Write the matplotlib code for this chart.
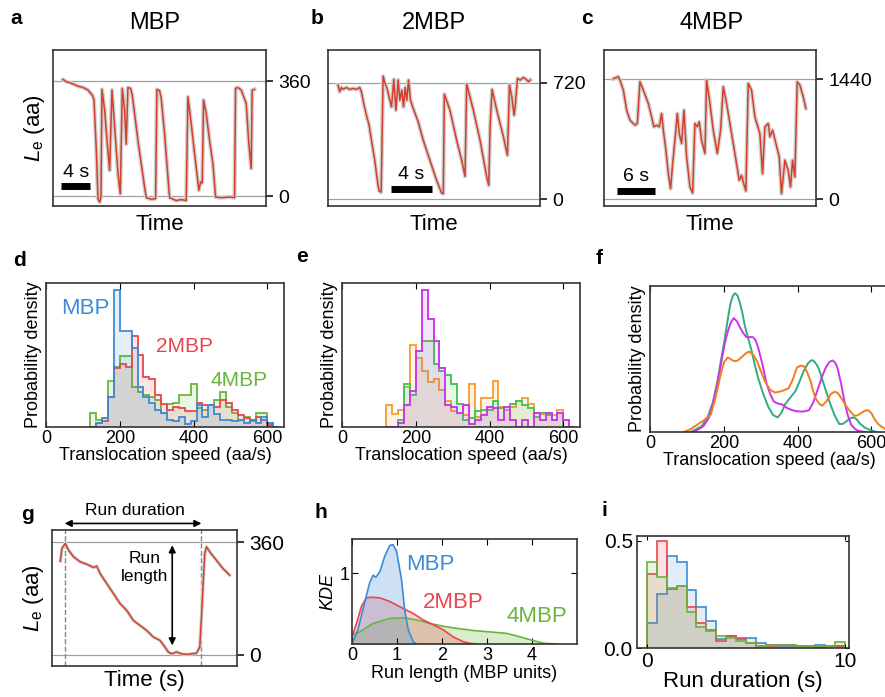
import numpy as np
import matplotlib
matplotlib.use('Agg')
import matplotlib.pyplot as plt

plt.rcParams['font.family'] = ['Liberation Sans', 'DejaVu Sans']
plt.rcParams['mathtext.fontset'] = 'custom'
plt.rcParams['mathtext.rm'] = 'Liberation Sans'
plt.rcParams['mathtext.it'] = 'Liberation Sans:italic'
plt.rcParams['axes.linewidth'] = 1.2
plt.rcParams['axes.edgecolor'] = '#333333'

# ---------------- data ----------------
# panel a (MBP trace): time (s), extruded length (aa)
ta = [1.38, 1.84, 2.30, 2.76, 3.45, 4.14, 4.83, 5.43, 5.66, 5.98, 6.21, 6.44, 6.62, 6.76, 7.13, 7.45, 7.82,
      8.14, 8.51, 8.97, 9.29, 9.56, 9.89, 10.11, 10.34, 10.71, 10.94, 11.26, 11.72, 12.18, 12.64, 12.87,
      13.56, 14.16, 14.34, 14.71, 14.94, 15.40, 15.86, 16.09, 17.01, 17.70, 18.39, 18.62, 19.08, 19.54,
      20.14, 20.37, 20.60, 20.78, 21.15, 21.61, 22.07, 22.44, 23.22, 24.37, 25.06, 25.20, 25.52, 25.98,
      26.67, 27.03, 27.36, 27.49, 27.82]
la = [365, 358, 355, 351, 344, 340, 332, 316, 301, 144, -7, -18, -2, 334, 269, 175, 81,
      332, 217, 71, 8, 337, 269, 163, 340, 337, 316, 259, 175, 102, 29, -4,
      -9, -7, 334, 330, 306, 196, 61, -4, -13, -10, -13, 311, 227, 134,
      19, 45, 42, 301, 259, 175, 102, -2, -4, -2, -4, 337, 340, 332,
      290, 165, 87, 332, 334]

# panel b (2MBP trace)
tb = [0.96, 1.12, 1.28, 1.44, 1.76, 2.08, 2.40, 2.72, 3.04, 3.20, 3.42, 3.68, 3.94, 4.16, 4.48, 4.74, 4.90,
      5.09, 5.28, 5.44, 5.66, 5.92, 6.08, 6.30, 6.50, 6.72, 6.88, 7.07, 7.23, 7.39, 7.55, 7.71, 7.90, 8.22,
      8.64, 9.12, 9.76, 10.40, 10.88, 11.04, 11.14, 11.68, 12.32, 12.80, 13.12, 13.28, 13.92, 14.56, 15.20,
      15.39, 15.52, 15.71, 16.16, 16.80, 17.18, 17.38, 17.60, 17.82, 17.95, 18.14, 18.40, 18.72, 18.98,
      19.20, 19.36]
lb = [706, 664, 691, 679, 691, 679, 685, 679, 691, 664, 592, 519, 457, 364, 240, 106, 50,
      43, 761, 720, 685, 612, 571, 741, 550, 737, 612, 674, 571, 691, 612, 737, 612, 550,
      478, 364, 240, 116, 37, 33, 650, 550, 364, 240, 141, 712, 550, 364, 137,
      85, 447, 679, 550, 385, 271, 706, 633, 519, 592, 747, 737, 753, 741,
      726, 737]

# panel c (4MBP trace)
tc = [1.46, 2.24, 2.50, 3.03, 3.55, 4.07, 4.85, 5.22, 5.63, 6.16, 6.94, 7.46, 7.82, 8.24, 8.66, 9.02, 9.29,
      9.70, 10.07, 10.43, 10.75, 11.11, 11.48, 11.79, 12.15, 12.52, 12.94, 13.46, 13.88, 14.24, 14.61,
      14.92, 15.28, 15.81, 16.07, 16.59, 17.11, 17.74, 18.26, 18.68, 19.20, 19.98, 20.50, 21.18, 21.54,
      21.80, 22.22, 22.59, 23.11, 23.63, 24.41, 24.83, 25.20, 25.72, 25.98, 26.40, 26.92, 27.44, 27.80,
      28.33, 28.85, 29.21, 29.53, 29.89, 30.26, 30.67, 31.20, 31.61]
lc = [1448, 1472, 1432, 1311, 1070, 949, 889, 909, 1412, 1311, 1150, 989, 869, 889, 869, 1030, 829,
      587, 306, 125, 426, 708, 1030, 788, 668, 1070, 507, 145, 72, 909, 869,
      929, 708, 547, 1432, 1150, 829, 547, 829, 1351, 1150, 788, 547, 225, 286,
      205, 97, 1392, 1311, 989, 788, 306, 869, 909, 748, 829, 668, 507, 64,
      467, 346, 145, 467, 265, 1412, 1372, 1231, 1090]

# panel g (single run)
tg = [0.50, 0.60, 0.80, 1.00, 1.30, 1.70, 2.10, 2.50, 2.70, 2.90, 3.30, 3.70, 4.10, 4.50, 4.90, 5.30,
      5.70, 6.10, 6.50, 6.80, 7.00, 7.20, 7.50, 7.80, 8.10, 8.40, 8.70, 8.90, 9.00, 9.10, 9.20, 9.30,
      9.50, 9.90, 10.30, 10.50, 10.70]
lg = [300, 341, 357, 335, 314, 298, 290, 280, 284, 260, 228, 196, 164, 142, 110, 94,
      78, 57, 46, 25, 9, 3, 9, 3, 1, 3, 5, 25, 121, 228, 325, 346,
      330, 303, 276, 266, 255]
run_start, run_end = 0.76, 9.0
run_top, run_bottom = 351, 30

# panels d/e: histogram bin edges (aa/s) and densities (arb. units)
speed_edges = list(range(120, 633, 16))
d_mbp = [0, 0.3, 0.6, 2.1, 9.5, 6.7, 6.7, 5.5, 2.8, 2.1, 1.7, 1.2, 1.0, 0.5, 0.4, 0.7,
         0.2, 0.4, 1.5, 0.7, 1.5, 0.9, 0.5, 0.5, 0.4, 0.5, 0.3, 0.5, 0.3, 0.7, 0.3, 0]
d_2mbp = [0, 0.3, 0.4, 2.1, 4.1, 4.4, 4.2, 6.3, 5.0, 3.5, 3.3, 2.2, 1.6, 1.2, 1.4, 1.3,
          1.1, 1.1, 1.7, 1.5, 1.5, 1.4, 1.9, 1.7, 1.2, 0.85, 0.6, 0.5, 0.7, 0.5, 0.15, 0]
d_4mbp = [1.0, 0.5, 0.6, 3.2, 4.2, 4.9, 4.9, 2.8, 2.4, 2.2, 2.1, 1.9, 1.0, 1.6, 1.7, 2.2,
          2.2, 3.0, 1.3, 1.2, 1.5, 1.9, 2.4, 1.4, 1.0, 0.5, 0.7, 0.4, 1.0, 1.0, 0.3, 0]
e_orange = [1.5, 0.9, 1.2, 2.8, 5.7, 4.8, 3.9, 3.1, 3.3, 2.6, 1.8, 1.1, 1.0, 0.8, 3.0, 0.7,
            2.0, 2.0, 3.2, 1.4, 1.2, 1.4, 1.8, 2.0, 1.6, 1.0, 0.9, 0.8, 0.8, 1.2, 0, 0]
e_green = [0, 0, 0.5, 3.0, 2.2, 5.3, 6.0, 6.0, 4.4, 3.9, 3.6, 3.0, 1.6, 0.5, 0.6, 1.1,
           1.2, 1.2, 1.8, 1.3, 1.4, 1.6, 1.8, 1.5, 1.3, 0.7, 1.0, 0.8, 0.5, 1.0, 0, 0]
e_magenta = [0, 0, 0.3, 1.5, 2.5, 5.3, 9.5, 7.5, 6.0, 4.1, 1.5, 1.4, 1.0, 1.5, 0.2, 0.5,
             0.8, 1.4, 1.3, 0.5, 1.4, 0.5, 0, 0.5, 0, 1.0, 0.5, 1.0, 0.5, 1.0, 0.5, 0]

# panel f: KDE curves (speed, density)
f_green_x = [110, 140, 156, 170, 183, 193, 202, 210, 218, 225, 231, 237, 243, 250, 256, 265, 275, 284,
             293, 307, 321, 334, 346, 356, 366, 380, 394, 406, 417, 428, 436, 440, 446, 452, 458, 472,
             486, 500, 513, 522, 531, 540, 550, 559, 568, 582, 595, 614]
f_green_y = [0, 0.4, 1.0, 2.0, 3.5, 5.0, 6.3, 7.6, 8.8, 9.35, 9.5, 9.35, 8.9, 8.2, 7.4, 6.5, 5.6, 4.6,
             3.7, 2.6, 1.7, 1.15, 1.0, 1.3, 1.9, 2.35, 2.8, 3.5, 4.2, 4.7, 4.9, 4.92, 4.8, 4.6, 4.3, 3.2,
             2.1, 1.15, 0.55, 0.55, 0.7, 0.9, 1.0, 0.9, 0.6, 0.3, 0.15, 0]
f_mag_x = [119, 145, 160, 176, 192, 202, 211, 219, 227, 235, 243, 252, 261, 270, 279, 286, 293, 305,
           316, 326, 335, 346, 357, 371, 385, 398, 412, 422, 431, 442, 453, 465, 476, 486, 495, 502,
           508, 518, 527, 536, 545, 556, 568, 586]
f_mag_y = [0, 0.4, 1.0, 2.5, 4.6, 6.0, 6.9, 7.5, 7.8, 7.6, 7.2, 6.8, 6.5, 6.5, 6.5, 6.3, 5.8, 4.6,
           3.3, 2.6, 2.1, 1.95, 1.9, 1.65, 1.5, 1.42, 1.4, 1.43, 1.5, 2.0, 2.8, 3.7, 4.4, 4.8, 4.9, 4.75,
           4.4, 3.3, 2.1, 1.15, 0.5, 0.2, 0.05, 0]
f_or_x = [92, 110, 128, 146, 165, 178, 192, 201, 211, 218, 224, 231, 238, 247, 256, 263, 270, 279,
          289, 300, 311, 325, 339, 357, 376, 387, 398, 408, 417, 426, 435, 442, 449, 458, 467, 478,
          490, 499, 508, 519, 531, 543, 554, 563, 572, 582, 591, 600, 609, 620, 632, 646]
f_or_y = [0, 0.2, 0.5, 0.8, 1.2, 2.4, 4.0, 4.8, 5.1, 5.0, 4.9, 4.85, 4.9, 5.1, 5.3, 5.45, 5.5, 5.3,
          4.9, 4.2, 3.5, 2.9, 2.7, 2.8, 3.0, 3.6, 4.4, 4.55, 4.5, 4.1, 3.5, 2.8, 2.3, 1.95, 1.8, 2.1,
          2.6, 2.75, 2.7, 2.3, 1.8, 1.4, 1.1, 1.15, 1.3, 1.45, 1.5, 1.3, 0.85, 0.5, 0.3, 0.05]

# panel h: KDE of run length (MBP units)
h_mbp_x = [0, 0.13, 0.28, 0.39, 0.47, 0.53, 0.62, 0.73, 0.84, 0.91, 0.99, 1.10, 1.17, 1.25, 1.36, 1.43]
h_mbp_y = [0, 0.2, 0.58, 0.86, 0.97, 0.94, 1.02, 1.24, 1.39, 1.40, 1.31, 0.91, 0.48, 0.2, 0.03, 0]
h_2mbp_x = [0, 0.1, 0.21, 0.32, 0.43, 0.62, 0.84, 1.14, 1.36, 1.58, 1.81, 2.03, 2.25, 2.48, 2.62, 2.77]
h_2mbp_y = [0.1, 0.29, 0.53, 0.65, 0.66, 0.65, 0.6, 0.5, 0.43, 0.34, 0.27, 0.2, 0.1, 0.03, 0.01, 0]
h_4mbp_x = [0, 0.17, 0.47, 0.84, 1.14, 1.43, 1.73, 2.03, 2.33, 2.70, 3.07, 3.44, 3.74, 3.96, 4.26, 4.56]
h_4mbp_y = [0.13, 0.17, 0.29, 0.36, 0.37, 0.34, 0.29, 0.25, 0.22, 0.19, 0.17, 0.15, 0.10, 0.06, 0.01, 0]

# panel i: run duration histograms
dur_edges = [i * 0.5 for i in range(21)]
i_mbp = [0.117, 0.25, 0.43, 0.40, 0.27, 0.19, 0.125, 0.04, 0.055, 0.047, 0.047, 0.023, 0.016,
         0.011, 0.011, 0.008, 0.011, 0.016, 0.008, 0.011]
i_2mbp = [0.344, 0.5, 0.277, 0.29, 0.19, 0.117, 0.086, 0.031, 0.055, 0.04, 0.023, 0.008, 0.011,
          0.016, 0.016, 0.011, 0.008, 0.005, 0.011, 0.008]
i_4mbp = [0.40, 0.33, 0.28, 0.29, 0.17, 0.10, 0.078, 0.055, 0.047, 0.031, 0.023, 0.011, 0.016,
          0.016, 0.016, 0.008, 0.011, 0.008, 0.008, 0.027]

# ---------------- styles ----------------
RED_TRACE = '#D2402B'
BLUE = '#3D8BD6'
RED = '#E8464B'
GREEN = '#6AB43C'
E_OR = '#F5A23A'
E_GR = '#46C65A'
E_MG = '#C83CE6'
F_GR = '#2EAD7E'
F_MG = '#CC33F0'
F_OR = '#F07D1E'

W, H = 885, 697
fig = plt.figure(figsize=(W / 100, H / 100), dpi=100)


def add_ax(l, t, r, b):
    return fig.add_axes([l / W, 1 - b / H, (r - l) / W, (b - t) / H])


def ftext(x, y, s, **kw):
    fig.text(x / W, 1 - y / H, s, **kw)


def trace_panel(ax, t, l, top, xmax, ylo, yhi, bar_x, bar_len, bar_y, bar_txt_y, bar_txt, ylabel):
    ax.plot(t, l, color='#d2d2d2', lw=3.0, solid_joinstyle='round', zorder=2)
    ax.plot(t, l, color=RED_TRACE, lw=1.1, zorder=3)
    ax.axhline(top, color='#a0a0a0', lw=0.9, zorder=1)
    ax.axhline(0, color='#a0a0a0', lw=0.9, zorder=1)
    ax.set_xlim(0, xmax)
    ax.set_ylim(ylo, yhi)
    ax.set_xticks([])
    ax.yaxis.tick_right()
    ax.set_yticks([0, top])
    ax.tick_params(axis='y', direction='out', length=5, width=1.1, labelsize=14, pad=4)
    ax.set_xlabel('Time', fontsize=16, labelpad=6)
    if ylabel:
        ax.set_ylabel(r'$L_\mathrm{e}$ (aa)', fontsize=16, labelpad=4)
    ax.plot([bar_x, bar_x + bar_len], [bar_y, bar_y], color='k', lw=5, solid_capstyle='butt', zorder=4)
    ax.text(bar_x + bar_len / 2, bar_txt_y, bar_txt, ha='center', va='center', fontsize=14)


# panel a
axa = add_ax(53, 50, 266, 206)
trace_panel(axa, ta, la, 360, 29.4, -30, 457, 1.15, 4, 31, 75, '4 s', True)
# panel b
axb = add_ax(328, 50, 540, 206)
trace_panel(axb, tb, lb, 720, 20.3, -43, 923, 6.0, 4, 60, 155, '4 s', False)
# panel c
axc = add_ax(604, 50, 816, 206)
trace_panel(axc, tc, lc, 1440, 33.2, -84, 1794, 1.98, 6, 92, 275, '6 s', False)

ftext(155, 23, 'MBP', ha='center', va='center', fontsize=17)
ftext(434, 23, '2MBP', ha='center', va='center', fontsize=17)
ftext(712, 23, '4MBP', ha='center', va='center', fontsize=17)
for x, y, s in [(16, 18, 'a'), (317, 18, 'b'), (587, 18, 'c'), (19, 260, 'd'), (302, 257, 'e'),
                (599, 259, 'f'), (27, 515, 'g'), (321, 513, 'h'), (604, 511, 'i')]:
    ftext(x, y, s, ha='center', va='center', fontsize=15, fontweight='bold')


def speed_axes(ax):
    ax.set_xlim(0, 645)
    ax.set_ylim(0, 10)
    ax.set_yticks([])
    ax.set_xticks([0, 200, 400, 600])
    ax.tick_params(axis='x', top=True, direction='in', length=4, labelsize=13, pad=2)
    ax.set_xlabel('Translocation speed (aa/s)', fontsize=13, labelpad=0)
    ax.set_ylabel('Probability density', fontsize=13, labelpad=3)


# panel d
axd = add_ax(46, 283, 284, 427)
for vals, col in [(d_4mbp, GREEN), (d_2mbp, RED), (d_mbp, BLUE)]:
    axd.stairs(vals, speed_edges, fill=True, color=col, alpha=0.13, lw=0)
    axd.stairs(vals, speed_edges, color=col, lw=1.3)
speed_axes(axd)
axd.text(106, 8.2, 'MBP', color=BLUE, fontsize=16, ha='center', va='center')
axd.text(374, 5.6, '2MBP', color=RED, fontsize=15, ha='center', va='center')
axd.text(523, 3.2, '4MBP', color=GREEN, fontsize=15, ha='center', va='center')

# panel e
axe = add_ax(342, 283, 580, 427)
for vals, col in [(e_orange, E_OR), (e_green, E_GR), (e_magenta, E_MG)]:
    axe.stairs(vals, speed_edges, fill=True, color=col, alpha=0.13, lw=0)
    axe.stairs(vals, speed_edges, color=col, lw=1.4)
speed_axes(axe)

# panel f
axf = add_ax(650, 286, 888, 432)
axf.plot(f_green_x, f_green_y, color=F_GR, lw=1.4)
axf.plot(f_mag_x, f_mag_y, color=F_MG, lw=1.4)
axf.plot(f_or_x, f_or_y, color=F_OR, lw=1.4)
speed_axes(axf)

# panel g
axg = add_ax(52, 530, 237, 666)
axg.plot(tg, lg, color='#d2d2d2', lw=2.5, zorder=2)
axg.plot(tg, lg, color=RED_TRACE, lw=1.1, zorder=3)
axg.axhline(360, color='#a0a0a0', lw=0.9, zorder=1)
axg.axhline(0, color='#a0a0a0', lw=0.9, zorder=1)
axg.axvline(run_start, color='#888888', lw=1.0, ls='--', zorder=1)
axg.axvline(run_end, color='#888888', lw=1.0, ls='--', zorder=1)
axg.set_xlim(0, 11.14)
axg.set_ylim(-36, 400)
axg.set_xticks([])
axg.yaxis.tick_right()
axg.set_yticks([0, 360])
axg.tick_params(axis='y', direction='out', length=5, width=1.1, labelsize=15, pad=4)
axg.set_xlabel('Time (s)', fontsize=16, labelpad=3)
axg.set_ylabel(r'$L_\mathrm{e}$ (aa)', fontsize=16, labelpad=4)
axg.annotate('', xy=(run_start, 421), xytext=(run_end, 421), annotation_clip=False,
             arrowprops=dict(arrowstyle='<|-|>', color='k', lw=1.2, shrinkA=0, shrinkB=0,
                             mutation_scale=10))
axg.text((run_start + run_end) / 2 + 0.1, 462, 'Run duration', ha='center', va='center', fontsize=12.5,
         clip_on=False)
axg.annotate('', xy=(7.24, run_top), xytext=(7.24, run_bottom),
             arrowprops=dict(arrowstyle='<|-|>', color='k', lw=1.2, shrinkA=0, shrinkB=0,
                             mutation_scale=10))
axg.text(5.6, 280, 'Run\nlength', ha='center', va='center', fontsize=12.5, linespacing=1.2)

# panel h
axh = add_ax(352, 539, 577, 644)
for xs, ys, col in [(h_4mbp_x, h_4mbp_y, GREEN), (h_2mbp_x, h_2mbp_y, RED), (h_mbp_x, h_mbp_y, BLUE)]:
    axh.fill_between(xs, ys, color=col, alpha=0.25, lw=0)
    axh.plot(xs, ys, color=col, lw=1.2)
axh.set_xlim(0, 5)
axh.set_ylim(0, 1.48)
axh.set_xticks([0, 1, 2, 3, 4])
axh.set_yticks([1])
axh.tick_params(top=True, right=True, direction='in', length=4, labelsize=13, pad=2)
axh.set_xlabel('Run length (MBP units)', fontsize=13, labelpad=1)
axh.set_ylabel('KDE', fontsize=13, fontstyle='italic', labelpad=2)
axh.text(1.73, 1.12, 'MBP', color=BLUE, fontsize=16, ha='center', va='center')
axh.text(2.25, 0.58, '2MBP', color=RED, fontsize=16, ha='center', va='center')
axh.text(4.11, 0.39, '4MBP', color=GREEN, fontsize=16, ha='center', va='center')

# panel i
axi = add_ax(637, 536, 849, 648)
for vals, col in [(i_mbp, BLUE), (i_2mbp, RED), (i_4mbp, GREEN)]:
    axi.stairs(vals, dur_edges, fill=True, color=col, alpha=0.15, lw=0)
    axi.stairs(vals, dur_edges, color=col, lw=1.2)
axi.set_xlim(-0.5, 10.2)
axi.set_ylim(0, 0.523)
axi.set_xticks([0, 10])
axi.set_yticks([0, 0.5])
axi.set_yticklabels(['0.0', '0.5'])
axi.tick_params(top=True, right=True, direction='in', length=3, labelsize=15, pad=3)
axi.set_xlabel('Run duration (s)', fontsize=16, labelpad=0)

fig.savefig('out.png', dpi=100)
